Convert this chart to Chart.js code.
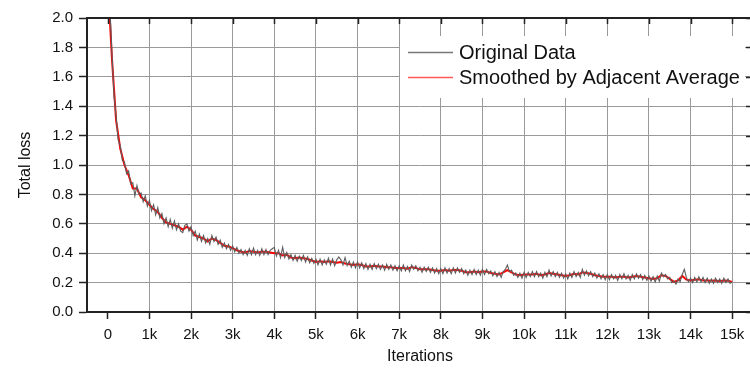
<!DOCTYPE html>
<html>
<head>
<meta charset="utf-8">
<script src="https://cdn.jsdelivr.net/npm/chart.js@4.4.1/dist/chart.umd.min.js"></script>
<style>
  html, body { margin: 0; padding: 0; background: #fff; overflow: hidden; }
  #wrap { width: 756px; height: 369px; }
</style>
</head>
<body>
<div id="wrap"><canvas id="lossChart"></canvas></div>
<script>
// iterations between samples
const rawStep = 50;
const smoothStep = 100;

// x ticks
const xTickValues = [0, 1000, 2000, 3000, 4000, 5000, 6000, 7000, 8000, 9000, 10000, 11000, 12000, 13000, 14000, 15000];
const xTickLabels = ["0", "1k", "2k", "3k", "4k", "5k", "6k", "7k", "8k", "9k", "10k", "11k", "12k", "13k", "14k", "15k"];
// y ticks
const yTickValues = [0, 0.2, 0.4, 0.6, 0.8, 1.0, 1.2, 1.4, 1.6, 1.8, 2.0];

// total loss, raw (one value every 50 iterations)
const originalLoss = [
  2.8, 2.08, 1.75, 1.47, 1.33, 1.17, 1.13, 1.03, 1.02, 0.94, 0.96, 0.87, 0.88, 0.79, 0.86, 0.80, 0.81, 0.75, 0.79, 0.72,
  0.76, 0.69, 0.73, 0.66, 0.71, 0.64, 0.67, 0.60, 0.64, 0.58, 0.63, 0.57, 0.62, 0.56, 0.60, 0.55, 0.54, 0.59, 0.60, 0.55,
  0.58, 0.52, 0.55, 0.49, 0.53, 0.48, 0.52, 0.47, 0.50, 0.46, 0.52, 0.48, 0.51, 0.46, 0.49, 0.44, 0.47, 0.43, 0.46, 0.42,
  0.45, 0.41, 0.44, 0.40, 0.425, 0.39, 0.42, 0.385, 0.43, 0.39, 0.435, 0.39, 0.42, 0.385, 0.43, 0.39, 0.425, 0.39, 0.42, 0.43,
  0.44, 0.38, 0.42, 0.37, 0.44, 0.37, 0.405, 0.36, 0.39, 0.35, 0.385, 0.345, 0.38, 0.35, 0.385, 0.34, 0.375, 0.335, 0.365, 0.33,
  0.36, 0.32, 0.36, 0.32, 0.355, 0.325, 0.365, 0.32, 0.36, 0.315, 0.355, 0.375, 0.355, 0.32, 0.37, 0.315, 0.345, 0.305, 0.34, 0.30,
  0.34, 0.30, 0.335, 0.295, 0.33, 0.29, 0.325, 0.29, 0.33, 0.295, 0.325, 0.29, 0.32, 0.285, 0.325, 0.29, 0.32, 0.285, 0.315, 0.28,
  0.315, 0.28, 0.32, 0.28, 0.31, 0.275, 0.32, 0.29, 0.315, 0.28, 0.305, 0.27, 0.305, 0.275, 0.305, 0.27, 0.30, 0.265, 0.295, 0.26,
  0.295, 0.26, 0.30, 0.265, 0.295, 0.26, 0.30, 0.265, 0.30, 0.27, 0.295, 0.26, 0.285, 0.25, 0.285, 0.255, 0.29, 0.255, 0.285, 0.25,
  0.29, 0.255, 0.29, 0.26, 0.28, 0.245, 0.275, 0.24, 0.27, 0.235, 0.275, 0.29, 0.32, 0.275, 0.285, 0.25, 0.265, 0.235, 0.265, 0.23,
  0.27, 0.235, 0.27, 0.24, 0.275, 0.24, 0.275, 0.24, 0.265, 0.23, 0.27, 0.24, 0.285, 0.245, 0.275, 0.24, 0.27, 0.235, 0.265, 0.23,
  0.26, 0.225, 0.265, 0.235, 0.275, 0.24, 0.27, 0.235, 0.29, 0.25, 0.28, 0.245, 0.275, 0.24, 0.265, 0.23, 0.26, 0.225, 0.255, 0.22,
  0.255, 0.22, 0.255, 0.225, 0.25, 0.215, 0.255, 0.225, 0.26, 0.225, 0.25, 0.215, 0.255, 0.225, 0.26, 0.23, 0.255, 0.22, 0.25, 0.215,
  0.245, 0.21, 0.24, 0.205, 0.245, 0.21, 0.265, 0.24, 0.255, 0.225, 0.235, 0.20, 0.21, 0.19, 0.225, 0.205, 0.255, 0.29, 0.235, 0.205,
  0.23, 0.20, 0.235, 0.205, 0.24, 0.205, 0.235, 0.20, 0.23, 0.195, 0.225, 0.195, 0.23, 0.20, 0.225, 0.195, 0.23, 0.20, 0.225, 0.195,
  0.205
];

// total loss, adjacent-average smoothed (one value every 100 iterations)
const smoothedLoss = [
  2.25,
  1.72, 1.30, 1.11, 1.00, 0.93, 0.84, 0.84, 0.78, 0.76, 0.73,
  0.70, 0.68, 0.64, 0.61, 0.60, 0.59, 0.58, 0.56, 0.58, 0.56,
  0.52, 0.51, 0.50, 0.48, 0.50, 0.49, 0.47, 0.45, 0.445, 0.435,
  0.42, 0.41, 0.405, 0.415, 0.41, 0.405, 0.41, 0.41, 0.405, 0.40,
  0.40, 0.385, 0.39, 0.37, 0.365, 0.37, 0.365, 0.36, 0.35, 0.34,
  0.345, 0.34, 0.345, 0.34, 0.335, 0.34, 0.33, 0.325, 0.32, 0.325,
  0.32, 0.31, 0.31, 0.315, 0.31, 0.31, 0.305, 0.305, 0.30, 0.30,
  0.30, 0.295, 0.305, 0.30, 0.29, 0.29, 0.29, 0.285, 0.28, 0.28,
  0.285, 0.28, 0.285, 0.285, 0.28, 0.27, 0.27, 0.275, 0.27, 0.275,
  0.275, 0.265, 0.26, 0.255, 0.27, 0.285, 0.27, 0.255, 0.25, 0.255,
  0.255, 0.255, 0.26, 0.25, 0.255, 0.265, 0.26, 0.255, 0.25, 0.245,
  0.25, 0.26, 0.255, 0.27, 0.265, 0.26, 0.25, 0.245, 0.24, 0.24,
  0.24, 0.235, 0.24, 0.24, 0.235, 0.24, 0.245, 0.24, 0.235, 0.23,
  0.225, 0.23, 0.25, 0.245, 0.225, 0.205, 0.215, 0.245, 0.22, 0.215,
  0.22, 0.222, 0.215, 0.215, 0.212, 0.215, 0.21, 0.215, 0.212, 0.205
];

const FONT = "'Liberation Sans', Arial, sans-serif";
const AXIS = "#222";
const GRID = "#9a9a9a";

// top/right frame with inward ticks + legend box
const framePlugin = {
  id: "frame",
  afterDraw(chart) {
    const { ctx, chartArea: a, scales } = chart;
    ctx.save();
    ctx.strokeStyle = AXIS;
    ctx.lineWidth = 2;
    ctx.beginPath();
    ctx.moveTo(a.left - 1, a.top);
    ctx.lineTo(a.right, a.top);
    ctx.lineTo(a.right, a.bottom);
    ctx.stroke();
    ctx.lineWidth = 1.5;
    ctx.beginPath();
    xTickValues.forEach((v) => {
      const px = Math.round(scales.x.getPixelForValue(v)) + 0.5;
      ctx.moveTo(px, a.top);
      ctx.lineTo(px, a.top + 6);
    });
    yTickValues.forEach((v) => {
      const py = Math.round(scales.y.getPixelForValue(v)) + 0.5;
      ctx.moveTo(a.right, py);
      ctx.lineTo(a.right - 7, py);
    });
    ctx.stroke();

    // legend
    const lx = a.left + 313, ly = a.top + 18;
    ctx.fillStyle = "#fff";
    ctx.fillRect(lx, ly, 345, 62);
    ctx.font = "20px " + FONT;
    ctx.textBaseline = "middle";
    chart.data.datasets.forEach((ds, i) => {
      const y = ly + 16 + i * 25;
      ctx.strokeStyle = ds.legendColor;
      ctx.lineWidth = 1.5;
      ctx.beginPath();
      ctx.moveTo(lx + 8, y + 0.5);
      ctx.lineTo(lx + 53, y + 0.5);
      ctx.stroke();
      ctx.fillStyle = "#111";
      ctx.fillText(ds.label, lx + 59, y + 1);
    });
    ctx.restore();
  }
};

new Chart(document.getElementById("lossChart"), {
  type: "line",
  data: {
    datasets: [
      {
        label: "Original Data",
        data: originalLoss.map((y, i) => ({ x: i * rawStep, y })),
        borderColor: "#5e5e5e",
        legendColor: "#777",
        borderWidth: 1.1,
        pointRadius: 0,
        tension: 0
      },
      {
        label: "Smoothed by Adjacent Average",
        data: smoothedLoss.map((y, i) => ({ x: i * smoothStep, y })),
        borderColor: "#ff0000",
        legendColor: "#ff5a5a",
        borderWidth: 2,
        pointRadius: 0,
        tension: 0
      }
    ]
  },
  options: {
    responsive: true,
    maintainAspectRatio: false,
    animation: false,
    devicePixelRatio: 1,
    layout: { padding: { top: 18, right: 3, left: 0, bottom: 0 } },
    plugins: { legend: { display: false }, tooltip: { enabled: false } },
    scales: {
      x: {
        type: "linear",
        min: -500,
        max: 15500,
        afterBuildTicks: (s) => { s.ticks = xTickValues.map((v) => ({ value: v })); },
        afterFit: (s) => { s.height = 57; },
        ticks: {
          callback: (v) => xTickLabels[xTickValues.indexOf(v)],
          font: { family: FONT, size: 15 },
          color: "#111",
          padding: 7,
          maxRotation: 0,
          autoSkip: false
        },
        grid: {
          color: (c) => (c.tick && c.tick.value === 0 ? "rgba(0,0,0,0)" : GRID),
          lineWidth: 1,
          tickLength: 7,
          tickColor: AXIS,
          tickWidth: 1.5
        },
        border: { display: true, color: AXIS, width: 2 },
        title: {
          display: true,
          text: "Iterations",
          font: { family: FONT, size: 16 },
          color: "#111",
          padding: { top: 0, bottom: 3 }
        }
      },
      y: {
        min: 0,
        max: 2,
        afterBuildTicks: (s) => { s.ticks = yTickValues.map((v) => ({ value: v })); },
        afterFit: (s) => { s.width = 87; },
        ticks: {
          callback: (v) => v.toFixed(1),
          font: { family: FONT, size: 15 },
          color: "#111",
          padding: 6
        },
        grid: {
          color: GRID,
          lineWidth: 1,
          tickLength: 8,
          tickColor: AXIS,
          tickWidth: 1.5
        },
        border: { display: true, color: AXIS, width: 2 },
        title: {
          display: true,
          text: "Total loss",
          font: { family: FONT, size: 16 },
          color: "#111",
          padding: { top: 16, bottom: 0 }
        }
      }
    }
  },
  plugins: [framePlugin]
});
</script>
</body>
</html>
